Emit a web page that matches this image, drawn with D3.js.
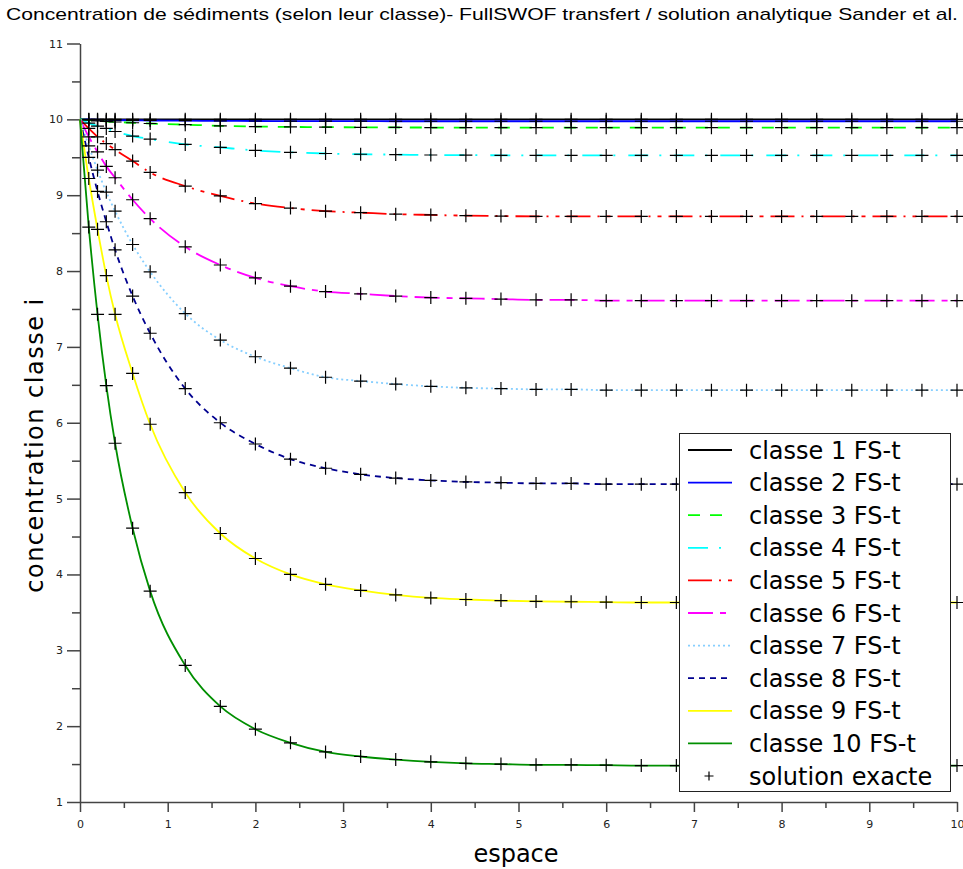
<!DOCTYPE html>
<html lang="fr">
<head>
    <meta charset="UTF-8">
    <title>Concentration de sédiments</title>
    <style>
        body {
            margin: 0;
            background-color: #FFFFFF;
        }
        svg text {
            fill: #000000;
        }
    </style>
</head>
<body>
    <div id="chart"></div>

    <script src="https://d3js.org/d3.v7.min.js"></script>
    <script>
        // Data
        const titleText = "Concentration de sédiments (selon leur classe)- FullSWOF transfert / solution analytique Sander et al.";
        const xLabel = "espace";
        const yLabel = "concentration classe i";

        const xs = [0, 0.1, 0.2, 0.3, 0.4, 0.6, 0.8, 1.2, 1.6, 2.0, 2.4, 2.8, 3.2, 3.6, 4.0,
                    4.4, 4.8, 5.2, 5.6, 6.0, 6.4, 6.8, 7.2, 7.6, 8.0, 8.4, 8.8, 9.2, 9.6, 10];

        const classe1 = [10, 10, 10, 10, 10, 10, 10, 10, 10, 10, 10, 10, 10, 10, 10,
                         10, 10, 10, 10, 10, 10, 10, 10, 10, 10, 10, 10, 10, 10, 10];
        const classe2 = [10, 9.998, 9.995, 9.993, 9.99, 9.987, 9.985, 9.982, 9.98, 9.978, 9.977, 9.976, 9.976, 9.975, 9.975,
                         9.975, 9.975, 9.975, 9.975, 9.975, 9.975, 9.975, 9.975, 9.975, 9.975, 9.975, 9.975, 9.975, 9.975, 9.975];
        const classe3 = [10, 9.99, 9.98, 9.972, 9.965, 9.955, 9.945, 9.93, 9.915, 9.905, 9.9, 9.897, 9.895, 9.893, 9.892,
                         9.891, 9.89, 9.89, 9.89, 9.89, 9.89, 9.89, 9.89, 9.89, 9.89, 9.89, 9.89, 9.89, 9.89, 9.89];
        const classe4 = [10, 9.95, 9.91, 9.88, 9.84, 9.78, 9.74, 9.67, 9.63, 9.59, 9.565, 9.55, 9.54, 9.535, 9.53,
                         9.528, 9.526, 9.525, 9.525, 9.525, 9.525, 9.525, 9.525, 9.525, 9.525, 9.525, 9.525, 9.525, 9.525, 9.525];
        const classe5 = [10, 9.88, 9.77, 9.68, 9.6, 9.45, 9.3, 9.12, 8.99, 8.89, 8.83, 8.79, 8.77, 8.75, 8.74,
                         8.73, 8.725, 8.72, 8.72, 8.72, 8.72, 8.72, 8.72, 8.72, 8.72, 8.72, 8.72, 8.72, 8.72, 8.72];
        const classe6 = [10, 9.77, 9.57, 9.38, 9.23, 8.94, 8.69, 8.32, 8.08, 7.91, 7.8, 7.73, 7.7, 7.67, 7.65,
                         7.64, 7.63, 7.62, 7.62, 7.61, 7.61, 7.61, 7.61, 7.61, 7.61, 7.61, 7.61, 7.61, 7.61, 7.61];
        const classe7 = [10, 9.65, 9.33, 9.04, 8.79, 8.35, 7.99, 7.44, 7.09, 6.87, 6.72, 6.6, 6.55, 6.51, 6.48,
                         6.46, 6.45, 6.44, 6.44, 6.43, 6.43, 6.43, 6.43, 6.43, 6.43, 6.43, 6.43, 6.43, 6.43, 6.43];
        const classe8 = [10, 9.5, 9.05, 8.65, 8.28, 7.67, 7.18, 6.45, 6.0, 5.72, 5.52, 5.4, 5.32, 5.27, 5.24,
                         5.22, 5.21, 5.2, 5.2, 5.19, 5.19, 5.19, 5.19, 5.19, 5.19, 5.19, 5.19, 5.19, 5.19, 5.19];
        const classe9 = [10, 9.22, 8.55, 7.94, 7.43, 6.65, 5.98, 5.08, 4.54, 4.21, 4.0, 3.87, 3.79, 3.73, 3.69,
                         3.67, 3.655, 3.645, 3.64, 3.635, 3.63, 3.63, 3.63, 3.63, 3.63, 3.63, 3.63, 3.63, 3.63, 3.63];
        const classe10 = [10, 8.58, 7.43, 6.49, 5.73, 4.61, 3.78, 2.8, 2.26, 1.96, 1.78, 1.66, 1.6, 1.56, 1.53,
                          1.51, 1.5, 1.49, 1.49, 1.485, 1.48, 1.48, 1.48, 1.48, 1.48, 1.48, 1.48, 1.48, 1.48, 1.48];

        const seriesValues = [classe1, classe2, classe3, classe4, classe5, classe6, classe7, classe8, classe9, classe10];
        const seriesNames = ["classe 1 FS-t", "classe 2 FS-t", "classe 3 FS-t", "classe 4 FS-t", "classe 5 FS-t",
                             "classe 6 FS-t", "classe 7 FS-t", "classe 8 FS-t", "classe 9 FS-t", "classe 10 FS-t"];
        const exactName = "solution exacte";

        const xTicks = [0, 1, 2, 3, 4, 5, 6, 7, 8, 9, 10];
        const yTicks = [1, 2, 3, 4, 5, 6, 7, 8, 9, 10, 11];

        // Line styles (scilab colours)
        const styles = [
            { color: "#000000", dash: null },
            { color: "#0000ff", dash: null },
            { color: "#00ff00", dash: "12,10" },
            { color: "#00ffff", dash: "20,11,2,13" },
            { color: "#ff0000", dash: "24,7,2,7,4,7" },
            { color: "#ff00ff", dash: "25,7,6,7" },
            { color: "#87cfff", dash: "2,3" },
            { color: "#00008f", dash: "6,5" },
            { color: "#ffff00", dash: null },
            { color: "#008f00", dash: null }
        ];

        const width = 963;
        const height = 869;

        const svg = d3.select("#chart")
            .append("svg")
            .attr("width", width)
            .attr("height", height);

        const x = d3.scaleLinear().domain([0, 10]).range([80, 957]);
        const y = d3.scaleLinear().domain([1, 11]).range([802, 43.5]);

        // Title
        svg.append("text")
            .attr("x", 6)
            .attr("y", 20)
            .attr("font-family", "Liberation Sans, Arial, sans-serif")
            .attr("font-size", "17px")
            .attr("textLength", 952)
            .attr("lengthAdjust", "spacingAndGlyphs")
            .text(titleText);

        // Axes
        const axisColor = "#444444";

        const xMinor = svg.append("g")
            .attr("transform", `translate(0, ${y(1)})`)
            .call(d3.axisBottom(x).tickValues(d3.range(0.5, 10, 1)).tickSize(6).tickFormat(""));
        const xAxis = svg.append("g")
            .attr("transform", `translate(0, ${y(1)})`)
            .call(d3.axisBottom(x).tickValues(xTicks).tickSize(10).tickSizeOuter(0).tickPadding(8).tickFormat(d3.format("d")));

        const yMinor = svg.append("g")
            .attr("transform", `translate(${x(0)}, 0)`)
            .call(d3.axisLeft(y).tickValues(d3.range(1.5, 11, 1)).tickSize(8).tickFormat(""));
        const yAxis = svg.append("g")
            .attr("transform", `translate(${x(0)}, 0)`)
            .call(d3.axisLeft(y).tickValues(yTicks).tickSize(13).tickSizeOuter(0).tickPadding(4).tickFormat(d3.format("d")));

        [xMinor, yMinor].forEach(g => g.select(".domain").remove());
        [xMinor, xAxis, yMinor, yAxis].forEach(g => {
            g.selectAll("line").attr("stroke", axisColor).attr("stroke-width", 1.5);
            g.selectAll(".domain").attr("stroke", axisColor).attr("stroke-width", 1.5);
            g.selectAll("text")
                .attr("font-family", "DejaVu Sans, sans-serif")
                .attr("font-size", "11px")
                .style("fill", "#222222");
        });

        // Axis labels
        svg.append("text")
            .attr("x", 516)
            .attr("y", 862)
            .attr("text-anchor", "middle")
            .attr("font-family", "DejaVu Sans, sans-serif")
            .attr("font-size", "24px")
            .text(xLabel);

        svg.append("text")
            .attr("transform", "translate(43, 445) rotate(-90)")
            .attr("text-anchor", "middle")
            .attr("font-family", "DejaVu Sans, sans-serif")
            .attr("font-size", "24px")
            .attr("letter-spacing", "1.5px")
            .text(yLabel);

        // Curves
        const line = d3.line()
            .x(d => x(d[0]))
            .y(d => y(d[1]))
            .curve(d3.curveMonotoneX);

        const curveGroup = svg.append("g");
        seriesValues.forEach((vals, i) => {
            const pts = xs.map((xv, j) => [xv, vals[j]]);
            curveGroup.append("path")
                .datum(pts)
                .attr("d", line)
                .attr("fill", "none")
                .attr("stroke", styles[i].color)
                .attr("stroke-width", 1.8)
                .attr("stroke-dasharray", styles[i].dash);
        });

        // Exact solution markers
        const plus = "M-6.5,0H6.5M0,-6.5V6.5";
        const markerGroup = svg.append("g");
        seriesValues.forEach(vals => {
            xs.forEach((xv, j) => {
                if (xv === 0) return;
                markerGroup.append("path")
                    .attr("d", plus)
                    .attr("transform", `translate(${x(xv)}, ${y(vals[j])})`)
                    .attr("stroke", "#000000")
                    .attr("stroke-width", 1.2)
                    .attr("fill", "none");
            });
        });

        // Legend
        const legend = svg.append("g");
        legend.append("rect")
            .attr("x", 679.5)
            .attr("y", 433.5)
            .attr("width", 271)
            .attr("height", 358)
            .attr("fill", "#FFFFFF")
            .attr("stroke", "#222222")
            .attr("stroke-width", 1);

        const rowY = i => 450 + i * 32.6;

        seriesNames.forEach((name, i) => {
            legend.append("line")
                .attr("x1", 688)
                .attr("x2", 732)
                .attr("y1", rowY(i))
                .attr("y2", rowY(i))
                .attr("stroke", styles[i].color)
                .attr("stroke-width", 1.8)
                .attr("stroke-dasharray", styles[i].dash);
            legend.append("text")
                .attr("x", 749)
                .attr("y", rowY(i) + 8.5)
                .attr("font-family", "DejaVu Sans, sans-serif")
                .attr("font-size", "24px")
                .text(name);
        });

        legend.append("path")
            .attr("d", "M-4.5,0H4.5M0,-4.5V4.5")
            .attr("transform", `translate(709, ${rowY(10)})`)
            .attr("stroke", "#000000")
            .attr("stroke-width", 1.2);
        legend.append("text")
            .attr("x", 749)
            .attr("y", rowY(10) + 8.5)
            .attr("font-family", "DejaVu Sans, sans-serif")
            .attr("font-size", "24px")
            .text(exactName);
    </script>
</body>
</html>
